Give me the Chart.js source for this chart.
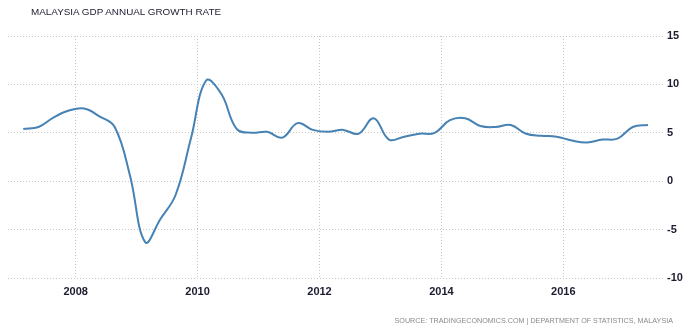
<!DOCTYPE html>
<html>
<head>
<meta charset="utf-8">
<script src="https://cdn.jsdelivr.net/npm/chart.js@4/dist/chart.umd.min.js"></script>
<style>
  html, body { margin: 0; padding: 0; background: #fff; }
  #wrap { position: relative; width: 689px; height: 330px; }
  #title { position: absolute; left: 31px; top: 6px; font: 9.9px "Liberation Sans", Arial, sans-serif; color: #1c1c30; }
  #source { position: absolute; right: 16px; top: 316px; font: 7.2px "Liberation Sans", Arial, sans-serif; color: #8a8a8a; }
</style>
</head>
<body>
<div id="wrap">
  <canvas id="gdp" width="689" height="330"></canvas>
  <div id="title">MALAYSIA GDP ANNUAL GROWTH RATE</div>
  <div id="source">SOURCE: TRADINGECONOMICS.COM | DEPARTMENT OF STATISTICS, MALAYSIA</div>
</div>
<script>
// quarterly, 2007 Q1 .. 2017 Q2
const quarters = [
  "2007Q1","2007Q2","2007Q3","2007Q4",
  "2008Q1","2008Q2","2008Q3","2008Q4",
  "2009Q1","2009Q2","2009Q3","2009Q4",
  "2010Q1","2010Q2","2010Q3","2010Q4",
  "2011Q1","2011Q2","2011Q3","2011Q4",
  "2012Q1","2012Q2","2012Q3","2012Q4",
  "2013Q1","2013Q2","2013Q3","2013Q4",
  "2014Q1","2014Q2","2014Q3","2014Q4",
  "2015Q1","2015Q2","2015Q3","2015Q4",
  "2016Q1","2016Q2","2016Q3","2016Q4",
  "2017Q1","2017Q2"
];
const growth = [
  5.4, 5.6, 6.6, 7.3,
  7.5, 6.7, 5.6, 0.6,
  -6.3, -3.9, -1.4, 4.4,
  10.4, 9.0, 5.4, 5.0,
  5.1, 4.5, 6.0, 5.3,
  5.1, 5.3, 4.9, 6.5,
  4.3, 4.6, 4.9, 5.0,
  6.3, 6.5, 5.7, 5.6,
  5.8, 4.9, 4.7, 4.6,
  4.2, 4.0, 4.3, 4.4,
  5.6, 5.8
];
const yearTicks = [2008, 2010, 2012, 2014, 2016];
const valueTicks = [-10, -5, 0, 5, 10, 15];

function qToYear(q){
  return parseInt(q.slice(0,4)) + (parseInt(q.slice(5)) - 1) * 0.25 + 0.14;
}

const points = quarters.map((q, i) => ({x: qToYear(q), y: growth[i]}));

const tickFont = {family: "'Liberation Sans', Arial, sans-serif", size: 11, weight: 'bold'};
const gridCol = '#c8c8c8';

new Chart(document.getElementById('gdp'), {
  type: 'line',
  data: {
    datasets: [{
      data: points,
      borderColor: '#4682b4',
      borderWidth: 2,
      pointRadius: 0,
      tension: 0.4,
      fill: false
    }]
  },
  options: {
    responsive: false,
    animation: false,
    layout: {padding: {top: 36, left: 8, right: 0, bottom: 0}},
    plugins: {legend: {display: false}, tooltip: {enabled: false}},
    scales: {
      x: {
        type: 'linear',
        min: 2006.889,
        max: 2017.636,
        afterBuildTicks: s => { s.ticks = yearTicks.map(v => ({value: v})); },
        afterFit: s => { s.height = 52; },
        ticks: {color: '#1c1c30', font: tickFont, padding: 7, callback: v => String(v), maxRotation: 0},
        grid: {color: gridCol, drawTicks: false},
        border: {display: false, dash: [1, 2]}
      },
      y: {
        position: 'right',
        min: -10,
        max: 15,
        afterBuildTicks: s => { s.ticks = valueTicks.map(v => ({value: v})); },
        afterFit: s => { s.width = 26; },
        ticks: {color: '#1c1c30', font: tickFont, padding: 4},
        grid: {color: gridCol, drawTicks: false},
        border: {display: false, dash: [1, 2]}
      }
    }
  }
});
</script>
</body>
</html>
